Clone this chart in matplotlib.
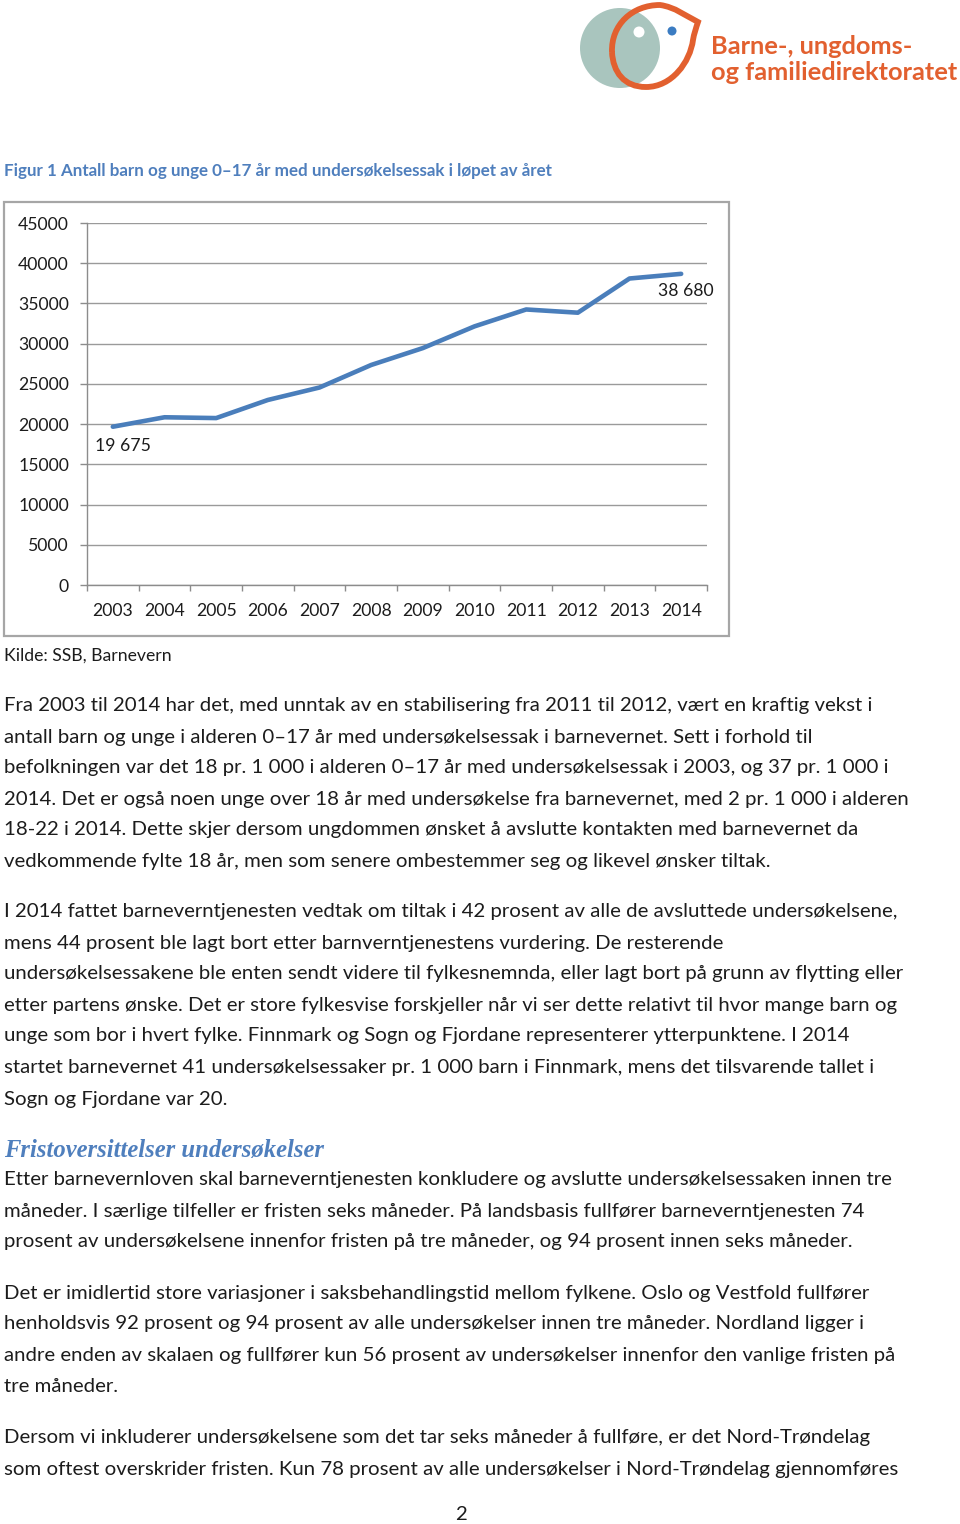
import matplotlib
matplotlib.use("Agg")
import matplotlib.pyplot as plt
from matplotlib.patches import Circle, Rectangle, PathPatch
from matplotlib.path import Path
import numpy as np

# ---------------- data ----------------
years = ["2003", "2004", "2005", "2006", "2007", "2008", "2009",
         "2010", "2011", "2012", "2013", "2014"]
counts = [19675, 20850, 20750, 23000, 24550, 27350, 29450,
          32150, 34250, 33850, 38100, 38680]
y_ticks = [0, 5000, 10000, 15000, 20000, 25000, 30000, 35000, 40000, 45000]
first_label = "19 675"
last_label = "38 680"

title_text = "Figur 1 Antall barn og unge 0–17 år med undersøkelsessak i løpet av året"
source_text = "Kilde: SSB, Barnevern"
logo_lines = ["Barne-, ungdoms-", "og familiedirektoratet"]
heading_text = "Fristoversittelser undersøkelser"

body_lines = [
    (706, "Fra 2003 til 2014 har det, med unntak av en stabilisering fra 2011 til 2012, vært en kraftig vekst i"),
    (737, "antall barn og unge i alderen 0–17 år med undersøkelsessak i barnevernet. Sett i forhold til"),
    (768, "befolkningen var det 18 pr. 1 000 i alderen 0–17 år med undersøkelsessak i 2003, og 37 pr. 1 000 i"),
    (799, "2014. Det er også noen unge over 18 år med undersøkelse fra barnevernet, med 2 pr. 1 000 i alderen"),
    (830, "18-22 i 2014. Dette skjer dersom ungdommen ønsket å avslutte kontakten med barnevernet da"),
    (861, "vedkommende fylte 18 år, men som senere ombestemmer seg og likevel ønsker tiltak."),
    (912, "I 2014 fattet barneverntjenesten vedtak om tiltak i 42 prosent av alle de avsluttede undersøkelsene,"),
    (943, "mens 44 prosent ble lagt bort etter barnverntjenestens vurdering. De resterende"),
    (974, "undersøkelsessakene ble enten sendt videre til fylkesnemnda, eller lagt bort på grunn av flytting eller"),
    (1005, "etter partens ønske. Det er store fylkesvise forskjeller når vi ser dette relativt til hvor mange barn og"),
    (1036, "unge som bor i hvert fylke. Finnmark og Sogn og Fjordane representerer ytterpunktene. I 2014"),
    (1067, "startet barnevernet 41 undersøkelsessaker pr. 1 000 barn i Finnmark, mens det tilsvarende tallet i"),
    (1099, "Sogn og Fjordane var 20."),
    (1180, "Etter barnevernloven skal barneverntjenesten konkludere og avslutte undersøkelsessaken innen tre"),
    (1211, "måneder. I særlige tilfeller er fristen seks måneder. På landsbasis fullfører barneverntjenesten 74"),
    (1242, "prosent av undersøkelsene innenfor fristen på tre måneder, og 94 prosent innen seks måneder."),
    (1293, "Det er imidlertid store variasjoner i saksbehandlingstid mellom fylkene. Oslo og Vestfold fullfører"),
    (1324, "henholdsvis 92 prosent og 94 prosent av alle undersøkelser innen tre måneder. Nordland ligger i"),
    (1355, "andre enden av skalaen og fullfører kun 56 prosent av undersøkelser innenfor den vanlige fristen på"),
    (1386, "tre måneder."),
    (1438, "Dersom vi inkluderer undersøkelsene som det tar seks måneder å fullføre, er det Nord-Trøndelag"),
    (1469, "som oftest overskrider fristen. Kun 78 prosent av alle undersøkelser i Nord-Trøndelag gjennomføres"),
]

# ---------------- figure ----------------
W, H = 960, 1524
fig = plt.figure(figsize=(W / 100, H / 100), dpi=100)
fig.patch.set_facecolor("white")
renderer = fig.canvas.get_renderer()

SANS = ["Lato", "DejaVu Sans"]
BLUE = "#4f7fbd"
ORANGE = "#e2602f"
TXT = "#1c1c1c"


def fit_size(text, target_w, family, weight="normal", style="normal", base=12.0):
    t = fig.text(0, 0, text, fontsize=base, family=family, weight=weight, style=style)
    w = t.get_window_extent(renderer).width
    t.remove()
    return base * target_w / w


pg = fig.add_axes([0, 0, 1, 1])
pg.set_xlim(0, W)
pg.set_ylim(H, 0)
pg.axis("off")

# ---------- logo ----------
pg.add_patch(Circle((620, 48), 40, facecolor="#a9c5be", edgecolor="none", zorder=1))
verts = [
    (612, 52),
    (611, 25), (632, 5), (660, 5),
    (675, 7), (686, 16), (698, 22),
    (696, 28), (694, 34), (693, 40),
    (690, 62), (672, 87), (646, 87),
    (624, 87), (613, 72), (612, 52),
]
codes = [Path.MOVETO] + [Path.CURVE4] * 15
face = Path(verts, codes)
pg.add_patch(PathPatch(face, facecolor="none", edgecolor=ORANGE, lw=4.2, zorder=3))
pg.add_patch(Circle((639, 32), 5.5, facecolor="white", edgecolor="none", zorder=4))
pg.add_patch(Circle((672, 31), 4.5, facecolor="#3b7cc2", edgecolor="none", zorder=4))
fs_logo = fit_size(logo_lines[1], 245, SANS, weight="bold")
pg.text(711, 46, logo_lines[0], fontsize=fs_logo, family=SANS, weight="bold",
        color=ORANGE, va="center", ha="left")
pg.text(711, 72, logo_lines[1], fontsize=fs_logo, family=SANS, weight="bold",
        color=ORANGE, va="center", ha="left")

# ---------- figure title ----------
fs_title = fit_size(title_text, 545, SANS, weight="bold")
pg.text(4, 171, title_text, fontsize=fs_title, family=SANS, weight="bold",
        color=BLUE, va="center", ha="left")

# ---------- chart frame ----------
pg.add_patch(Rectangle((4, 202), 725, 434, facecolor="none",
                       edgecolor="#a6a6a6", lw=1.6, zorder=1))

# ---------- chart ----------
left, right, top, bottom = 87, 707, 223, 585
ax = fig.add_axes([left / W, 1 - bottom / H, (right - left) / W, (bottom - top) / H])
ax.patch.set_facecolor("none")
x = np.arange(len(years))
ax.plot(x, counts, color="#4a7ebb", lw=3.3, solid_joinstyle="round",
        solid_capstyle="round", zorder=3)
ax.set_xlim(-0.5, len(years) - 0.5)
ax.set_ylim(y_ticks[0], y_ticks[-1])

fs_tick = fit_size("45000", 51, SANS)
ax.set_yticks(y_ticks)
ax.set_yticklabels([str(v) for v in y_ticks], fontsize=fs_tick, family=SANS, color=TXT)
ax.set_xticks(x)
ax.set_xticklabels(years, fontsize=fs_tick, family=SANS, color=TXT)
ax.tick_params(axis="x", which="major", length=0, pad=13)
ax.set_xticks(np.arange(-0.5, len(years), 1.0), minor=True)
ax.tick_params(axis="x", which="minor", length=4.5, color="#8c8c8c", width=1)
ax.tick_params(axis="y", length=5, color="#8c8c8c", width=1, pad=8)
ax.yaxis.grid(True, color="#9a9a9a", lw=1)
ax.set_axisbelow(True)
for s in ["top", "right"]:
    ax.spines[s].set_visible(False)
for s in ["left", "bottom"]:
    ax.spines[s].set_color("#8c8c8c")
    ax.spines[s].set_linewidth(1)

ax.annotate(first_label, (x[0], counts[0]), xytext=(-13, -14),
            textcoords="offset points", fontsize=fs_tick, family=SANS,
            color=TXT, ha="left", va="center")
ax.annotate(last_label, (x[-1], counts[-1]), xytext=(-17, -12),
            textcoords="offset points", fontsize=fs_tick, family=SANS,
            color=TXT, ha="left", va="center")

# ---------- source ----------
pg.text(4, 656, source_text, fontsize=fs_tick, family=SANS, color=TXT,
        va="center", ha="left")

# ---------- body text ----------
fs_body = fit_size(body_lines[0][1], 865, SANS)
for yy, line in body_lines:
    pg.text(4, yy, line, fontsize=fs_body, family=SANS, color=TXT,
            va="center", ha="left")

fs_head = fit_size(heading_text, 319, ["Liberation Serif", "DejaVu Serif"],
                   weight="bold", style="italic")
pg.text(4, 1150, heading_text, fontsize=fs_head,
        family=["Liberation Serif", "DejaVu Serif"], weight="bold",
        style="italic", color=BLUE, va="center", ha="left")

pg.text(461, 1514, "2", fontsize=fs_body, family=SANS, color=TXT,
        va="center", ha="center")

fig.savefig("out.png", dpi=100, facecolor="white")
